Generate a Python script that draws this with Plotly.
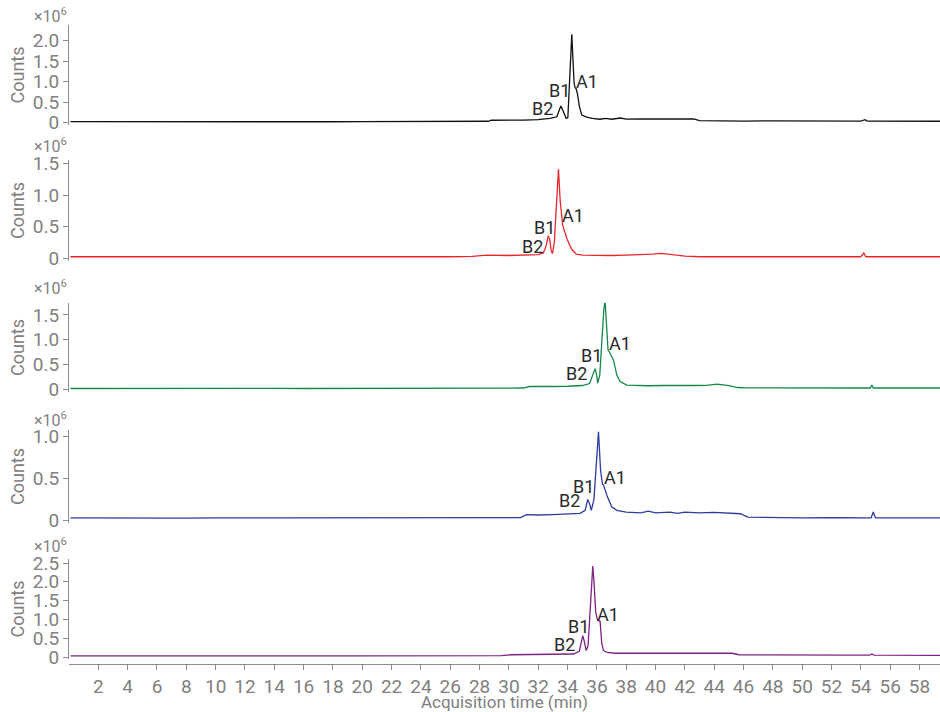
import plotly.graph_objects as go

# ---------------- data (time in min, counts in 1e6) ----------------
t_black = [0.1, 2, 4, 6, 8, 10, 12, 14, 16, 18, 20, 22, 24, 26, 28, 28.6, 28.8, 30, 31, 32,
           32.8, 33.27, 33.45, 33.54, 33.68, 33.9, 34.02, 34.13, 34.22, 34.29, 34.36, 34.45, 34.52, 34.58, 34.67,
           34.81, 34.97, 35.3, 35.7, 36.2, 36.6, 37.0, 37.6, 38.0, 39.0, 40.0, 41.0, 42.0, 42.6, 43.0,
           44, 46, 48, 50, 52, 54, 54.3, 54.4, 54.5, 55, 57, 59.4]
v_black = [0.02, 0.018, 0.02, 0.017, 0.02, 0.019, 0.018, 0.02, 0.02, 0.018, 0.02, 0.021, 0.02, 0.02, 0.024,
           0.03, 0.055, 0.05, 0.06, 0.07, 0.1, 0.14, 0.32, 0.40, 0.3, 0.10, 0.12, 0.95, 1.7, 2.15,
           1.6, 0.95, 0.84, 0.83, 0.71, 0.39, 0.18, 0.13, 0.1, 0.08, 0.1, 0.08, 0.11, 0.08, 0.085,
           0.09, 0.1, 0.1, 0.09, 0.045, 0.04, 0.035, 0.04, 0.035, 0.04, 0.035, 0.07, 0.04, 0.035, 0.035,
           0.03, 0.03]

t_red = [0.1, 2, 4, 6, 8, 10, 12, 14, 16, 18, 20, 22, 24, 26, 27.5, 28.5, 30, 31, 32,
         32.35, 32.55, 32.68, 32.78, 32.88, 32.97, 33.1, 33.25, 33.38, 33.5, 33.6, 33.67, 33.8, 34.0, 34.3,
         34.6, 35.0, 36.0, 37.0, 38.0, 39.0, 39.8, 40.4, 41.0, 42.0, 43, 45, 47, 49, 51, 53,
         54.0, 54.2, 54.35, 55, 57, 59.4]
v_red = [0.02, 0.018, 0.02, 0.02, 0.018, 0.02, 0.02, 0.019, 0.02, 0.02, 0.018, 0.02, 0.02, 0.02,
         0.025, 0.045, 0.04, 0.045, 0.055, 0.08, 0.2, 0.35, 0.3, 0.12, 0.07, 0.25, 1.0, 1.41, 0.9,
         0.58, 0.52, 0.42, 0.28, 0.13, 0.06, 0.045, 0.04, 0.04, 0.045, 0.05, 0.06, 0.075, 0.06, 0.03,
         0.02, 0.02, 0.018, 0.02, 0.02, 0.018, 0.02, 0.08, 0.02, 0.02, 0.018, 0.02]

t_green = [0.1, 2, 4, 6, 8, 10, 12, 14, 16, 18, 20, 22, 24, 26, 28, 30, 31.0, 31.4, 32, 33,
           34, 35.0, 35.5, 35.72, 35.88, 35.98, 36.06, 36.2, 36.35, 36.47, 36.56, 36.66, 36.76, 36.9, 37.0,
           37.13, 37.36, 37.58, 38.04, 38.5, 39.5, 40.5, 41.5, 42.5, 43.5, 44.2, 45.0, 45.6, 46, 48,
           50, 52, 54, 54.65, 54.75, 54.85, 56, 58, 59.4]
v_green = [0.02, 0.022, 0.02, 0.02, 0.022, 0.02, 0.02, 0.021, 0.02, 0.022, 0.02, 0.02, 0.021, 0.02, 0.022,
           0.025, 0.03, 0.06, 0.065, 0.06, 0.065, 0.08, 0.12, 0.3, 0.42, 0.3, 0.13, 0.3, 1.0, 1.6,
           1.78, 1.3, 0.8, 0.73, 0.68, 0.59, 0.29, 0.16, 0.09, 0.085, 0.075, 0.08, 0.075, 0.08, 0.085,
           0.11, 0.08, 0.04, 0.035, 0.03, 0.035, 0.03, 0.03, 0.03, 0.09, 0.03, 0.03, 0.028, 0.03]

t_blue = [0.1, 2, 4, 6, 8, 10, 12, 14, 16, 18, 20, 22, 24, 26, 28, 30, 30.8, 31.2, 32, 33,
          34, 34.86, 35.2, 35.38, 35.5, 35.62, 35.8, 35.95, 36.11, 36.25, 36.38, 36.45, 36.55, 36.72, 37.02,
          37.36, 38, 39, 39.5, 40, 41, 41.5, 42, 43, 44, 45, 45.8, 46.3, 48, 50,
          52, 53.5, 54.7, 54.85, 55.0, 56, 58, 59.4]
v_blue = [0.03, 0.028, 0.03, 0.03, 0.028, 0.03, 0.03, 0.03, 0.028, 0.03, 0.03, 0.03, 0.032, 0.03, 0.03,
          0.032, 0.035, 0.07, 0.065, 0.07, 0.075, 0.085, 0.12, 0.25, 0.2, 0.12, 0.25, 0.7, 1.05, 0.6,
          0.43, 0.42, 0.37, 0.28, 0.16, 0.12, 0.1, 0.09, 0.11, 0.09, 0.1, 0.085, 0.1, 0.09, 0.095,
          0.085, 0.08, 0.04, 0.035, 0.03, 0.035, 0.03, 0.03, 0.1, 0.03, 0.03, 0.028, 0.03]

t_purple = [0.1, 2, 4, 6, 8, 10, 12, 14, 16, 18, 20, 22, 24, 26, 28, 29.5, 30.1, 31, 32, 33,
            34, 34.4, 34.8, 34.95, 35.04, 35.15, 35.27, 35.4, 35.55, 35.65, 35.72, 35.8, 35.92, 36.04, 36.15,
            36.22, 36.33, 36.45, 36.7, 37.2, 38, 39, 40, 40.8, 41.5, 42.5, 43.5, 44.5, 45.2, 45.7,
            47, 49, 51, 53, 54.6, 54.75, 54.9, 56, 58, 59.4]
v_purple = [0.03, 0.028, 0.03, 0.03, 0.03, 0.028, 0.03, 0.03, 0.03, 0.028, 0.03, 0.03, 0.03, 0.032, 0.03,
            0.035, 0.06, 0.065, 0.06, 0.065, 0.07, 0.08, 0.15, 0.4, 0.57, 0.4, 0.17, 0.3, 1.2, 2.0,
            2.42, 2.0, 1.2, 0.98, 0.97, 0.95, 0.37, 0.17, 0.12, 0.1, 0.1, 0.1, 0.11, 0.12, 0.1,
            0.11, 0.1, 0.105, 0.1, 0.06, 0.055, 0.05, 0.05, 0.05, 0.05, 0.08, 0.05, 0.05, 0.045, 0.045]

x_ticks = list(range(2, 59, 2))
y_ticks = [[0, 0.5, 1.0, 1.5, 2.0],
           [0, 0.5, 1.0, 1.5],
           [0, 0.5, 1.0, 1.5],
           [0, 0.5, 1.0],
           [0, 0.5, 1.0, 1.5, 2.0, 2.5]]
peak_names = ["M", "B1", "A1", "B2"]
# label anchor points (time, counts) per panel, same order as peak_names
peak_label_pos = [
    [(34.29, 2.40), (33.43, 0.79), (35.36, 0.99), (32.30, 0.35)],
    [(33.49, 1.58), (32.40, 0.49), (34.40, 0.67), (31.63, 0.19)],
    [(36.68, 2.00), (35.65, 0.69), (37.59, 0.93), (34.58, 0.33)],
    [(36.10, 1.19), (35.08, 0.40), (37.24, 0.51), (34.13, 0.235)],
    [(35.72, 2.69), (34.74, 0.82), (36.79, 1.14), (33.77, 0.32)],
]

series = [(t_black, v_black), (t_red, v_red), (t_green, v_green), (t_blue, v_blue), (t_purple, v_purple)]
colors = ["#111111", "#e8262a", "#17864a", "#2c3c9c", "#7e2383"]

# ---------------- layout geometry (pixels) ----------------
W, H = 940, 712
M_L, M_R, M_T, M_B = 69, 0, 0, 48
PH = H - M_T - M_B
# (top px, bottom px, zero px, px per 1e6, exponent-label centre px)
panels = [(25, 125, 122.5, 41.0, 16),
          (160, 261, 258, 63.0, 146),
          (303, 392, 389.5, 49.7, 287),
          (430, 523, 520.5, 84.5, 419),
          (559, 659, 657, 37.6, 545)]

GRAY = "#808080"
FONT = "Roboto"
TICK_SIZE = 19

fig = go.Figure()
layout = dict(
    width=W, height=H,
    margin=dict(l=M_L, r=M_R, t=M_T, b=M_B, autoexpand=False),
    plot_bgcolor="white", paper_bgcolor="white",
    showlegend=False,
    font=dict(family=FONT, color=GRAY, size=17),
    xaxis=dict(range=[0, 59.4], anchor="free", position=0, automargin=False,
               tickvals=x_ticks, ticktext=[str(v) for v in x_ticks],
               showline=True, linecolor="#8c8c8c", linewidth=1,
               ticks="outside", ticklen=5, tickcolor="#8c8c8c",
               tickfont=dict(size=TICK_SIZE, color=GRAY, family=FONT),
               showgrid=False, zeroline=False,
               title=dict(text="Acquisition time (min)", font=dict(size=17, color=GRAY, family=FONT), standoff=6)),
)
annotations = []
for i, ((tt, vv), col, (top, bot, zero, sc, epx)) in enumerate(zip(series, colors, panels)):
    yname = "y" if i == 0 else f"y{i+1}"
    lname = "yaxis" if i == 0 else f"yaxis{i+1}"
    fig.add_trace(go.Scatter(x=tt, y=vv, mode="lines", line=dict(color=col, width=1.3),
                             xaxis="x", yaxis=yname, hoverinfo="skip"))
    d0 = (H - M_B - bot) / PH
    d1 = (H - M_B - top) / PH
    ymin = -(bot - zero) / sc
    ymax = (zero - top) / sc
    tv = y_ticks[i]
    layout[lname] = dict(
        domain=[d0, d1], range=[ymin, ymax], anchor="x", automargin=False,
        tickvals=tv, ticktext=["0" if v == 0 else f"{v:.1f}" for v in tv],
        showline=True, linecolor="#8c8c8c", linewidth=1,
        ticks="outside", ticklen=5, tickcolor="#8c8c8c",
        tickfont=dict(size=TICK_SIZE, color=GRAY, family=FONT),
        showgrid=False, zeroline=False, fixedrange=True,
        title=dict(text="Counts", font=dict(size=18, color=GRAY, family=FONT), standoff=3),
    )
    annotations.append(dict(text="×10<sup>6</sup>", xref="paper", yref="paper", x=0,
                            y=(H - M_B - epx) / PH,
                            xanchor="right", yanchor="middle", showarrow=False, xshift=0,
                            font=dict(size=16, color=GRAY, family=FONT)))
    for name, (px, py) in zip(peak_names, peak_label_pos[i]):
        annotations.append(dict(text=name, x=px, y=py, xref="x", yref=yname,
                                xanchor="center", yanchor="middle", showarrow=False,
                                font=dict(size=18, color="#2a2a2a", family=FONT)))

layout["annotations"] = annotations
fig.update_layout(**layout)
fig.write_html("out.html", config={"displayModeBar": False, "staticPlot": True},
               post_script="document.body.style.margin='0';document.body.style.padding='0';")
